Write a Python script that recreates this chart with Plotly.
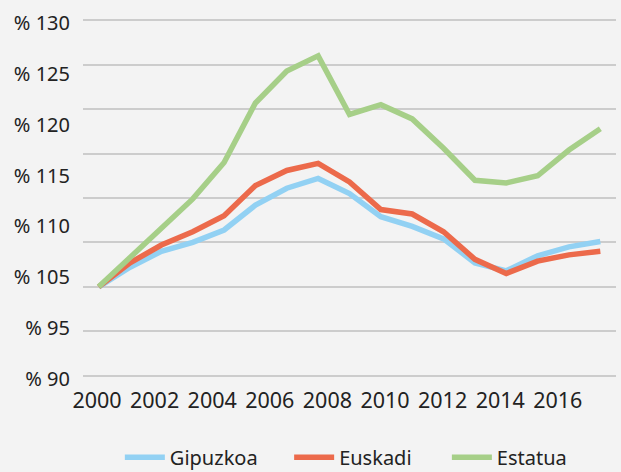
import plotly.graph_objects as go

years = list(range(2000, 2017))
gipuzkoa = [100, 102.2, 104.0, 105.0, 106.4, 109.2, 111.1, 112.2, 110.5, 107.9, 106.8, 105.4, 102.7, 101.8, 103.5, 104.5, 105.1]
euskadi = [100, 102.7, 104.7, 106.2, 108.0, 111.4, 113.1, 113.9, 111.8, 108.7, 108.2, 106.2, 103.1, 101.5, 102.9, 103.6, 104.0]
estatua = [100, 103.3, 106.7, 109.9, 114.0, 120.7, 124.3, 126.0, 119.4, 120.5, 118.9, 115.6, 112.0, 111.7, 112.5, 115.4, 117.8]

y_tick_labels = ["% 130", "% 125", "% 120", "% 115", "% 110", "% 105", "% 95", "% 90"]
x_tick_labels = ["2000", "2002", "2004", "2006", "2008", "2010", "2012", "2014", "2016"]

series = [
    ("Gipuzkoa", gipuzkoa, "#92D1F3", "legend", 0.193),
    ("Euskadi", euskadi, "#EC6A4B", "legend2", 0.4656),
    ("Estatua", estatua, "#A6CF88", "legend3", 0.7196),
]

FONT = "Noto Sans"
fig = go.Figure()
for name, vals, col, lg, _ in series:
    fig.add_trace(go.Scatter(x=years, y=vals, name=name, mode="lines", legend=lg,
                             line=dict(color=col, width=5.5)))

# overlay axes carrying the (offset) tick labels
fig.add_trace(go.Scatter(x=[], y=[], xaxis="x2", yaxis="y2", showlegend=False, hoverinfo="skip"))

n_y = len(y_tick_labels)
n_x = len(x_tick_labels)
pad = 0.15          # small range padding so edge gridlines are kept
pad2 = pad / 5 * (n_y - 1) / 8

legends = {}
for name, vals, col, lg, lx in series:
    legends[lg] = dict(orientation="h", x=lx, xanchor="left", xref="container",
                       y=0.031, yanchor="middle", yref="container", itemwidth=40,
                       font=dict(size=20), bgcolor="rgba(0,0,0,0)")

fig.update_layout(
    width=621, height=472,
    margin=dict(l=83, r=5, t=19, b=95),
    paper_bgcolor="#F3F3F3", plot_bgcolor="#F3F3F3",
    font=dict(family=FONT, size=20, color="#222222"),
    showlegend=True,
    **legends,
    xaxis=dict(range=[1999.5, 2016.5], showticklabels=False, showgrid=False,
               zeroline=False, showline=False, automargin=False),
    yaxis=dict(range=[90 - pad, 130 + pad], tickvals=[90, 95, 100, 105, 110, 115, 120, 125, 130],
               showticklabels=False, showgrid=True, gridcolor="#CCCCCC", gridwidth=1.5,
               zeroline=False, showline=False, automargin=False),
    xaxis2=dict(overlaying="x", anchor="y", side="bottom",
                range=[-0.243, 9.01], tickvals=list(range(n_x)), ticktext=x_tick_labels,
                showgrid=False, zeroline=False, showline=False, ticks="",
                ticklabelstandoff=8, tickfont=dict(size=21.5), automargin=False),
    yaxis2=dict(overlaying="y", anchor="x", side="left",
                range=[-pad2, n_y - 1 + pad2], tickvals=list(range(n_y - 1, -1, -1)), ticktext=y_tick_labels,
                showgrid=False, zeroline=False, showline=False, ticks="",
                ticklabelstandoff=12, ticklabelshift=3, tickfont=dict(size=20), automargin=False),
)

fig.write_html("out.html", config={"displayModeBar": False},
               post_script="document.body.style.margin='0';document.body.style.background='#F3F3F3';")
